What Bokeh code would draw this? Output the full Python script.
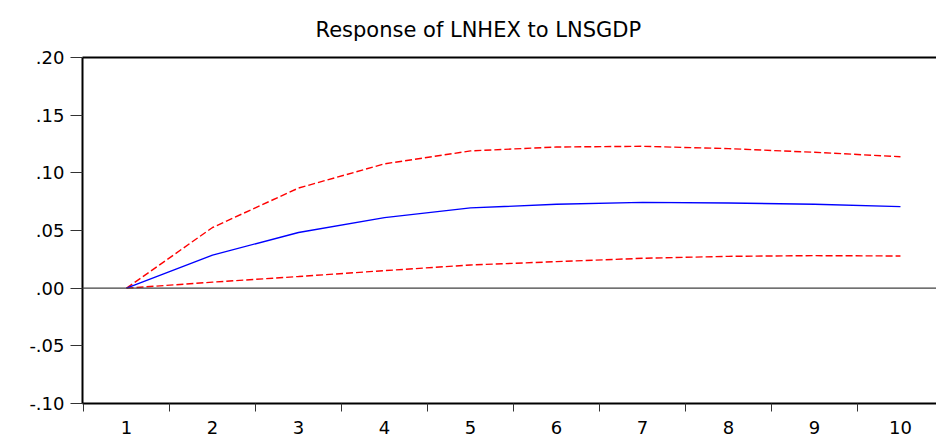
from bokeh.plotting import figure
from bokeh.models import FixedTicker, LinearAxis, Span, Range1d, Title
from bokeh.embed import file_html
from bokeh.resources import INLINE

# ---- data ----
periods = [1, 2, 3, 4, 5, 6, 7, 8, 9, 10]
response = [0.0, 0.0287, 0.0483, 0.0612, 0.0696, 0.0727, 0.0744, 0.0739, 0.0727, 0.0707]
upper_band = [0.0, 0.0526, 0.0868, 0.1078, 0.1190, 0.1224, 0.1230, 0.1210, 0.1178, 0.1140]
lower_band = [0.0, 0.0052, 0.0101, 0.0152, 0.0201, 0.0230, 0.0259, 0.0276, 0.0282, 0.0279]
y_ticks = [-0.10, -0.05, 0.0, 0.05, 0.10, 0.15, 0.20]
y_tick_labels = ["-.10", "-.05", ".00", ".05", ".10", ".15", ".20"]
x_tick_labels = [str(v) for v in periods]
title_text = "Response of LNHEX to LNSGDP"

FONT = "DejaVu Sans"
Y_MIN, Y_MAX = -0.10, 0.20

p = figure(width=936, height=436, output_backend="svg", toolbar_location=None,
           x_range=Range1d(0.488, 10.419), y_range=Range1d(Y_MIN, Y_MAX),
           min_border_left=82, min_border_right=0, min_border_top=57, min_border_bottom=31,
           x_axis_location=None, y_axis_location=None)
p.outline_line_color = None
p.xgrid.visible = False
p.ygrid.visible = False
p.background_fill_color = "white"
p.border_fill_color = "white"

# title
p.title = Title(text=title_text, align="left", offset=233, standoff=31,
                text_font=FONT, text_font_size="21px", text_font_style="normal",
                text_color="black")

# left axis
yax = LinearAxis(ticker=FixedTicker(ticks=y_ticks),
                 major_label_overrides={t: l for t, l in zip(y_ticks, y_tick_labels)},
                 major_label_text_font=FONT, major_label_text_font_size="18px",
                 major_label_text_color="black",
                 major_tick_out=12, major_tick_in=0, major_tick_line_width=1,
                 major_tick_line_color="#333333",
                 minor_tick_line_color=None, major_label_standoff=6,
                 axis_line_width=2, axis_line_color="black")
p.add_layout(yax, "left")

# bottom axis: labels at centers, ticks at boundaries
bounds = [v - 0.5 for v in periods] + [periods[-1] + 0.5]
xax = LinearAxis(ticker=FixedTicker(ticks=periods, minor_ticks=bounds),
                 major_label_overrides={t: l for t, l in zip(periods, x_tick_labels)},
                 major_label_text_font=FONT, major_label_text_font_size="18px",
                 major_label_text_color="black",
                 major_tick_line_color=None,
                 minor_tick_out=8, minor_tick_in=0, minor_tick_line_color="#333333",
                 minor_tick_line_width=1,
                 major_label_standoff=9,
                 axis_line_width=2, axis_line_color="black")
p.add_layout(xax, "below")

# top border
top = LinearAxis(ticker=FixedTicker(ticks=[]), major_label_text_font_size="0px",
                 major_tick_line_color=None, minor_tick_line_color=None,
                 axis_line_width=2, axis_line_color="black", major_label_standoff=0)
p.add_layout(top, "above")

p.add_layout(Span(location=0, dimension="width", line_color="#404040", line_width=1.2))

p.line(periods, upper_band, line_color="red", line_width=1.4, line_dash="7 3")
p.line(periods, lower_band, line_color="red", line_width=1.4, line_dash="7 3")
p.line(periods, response, line_color="blue", line_width=1.4)

open("out.html", "w").write(file_html(p, INLINE))
